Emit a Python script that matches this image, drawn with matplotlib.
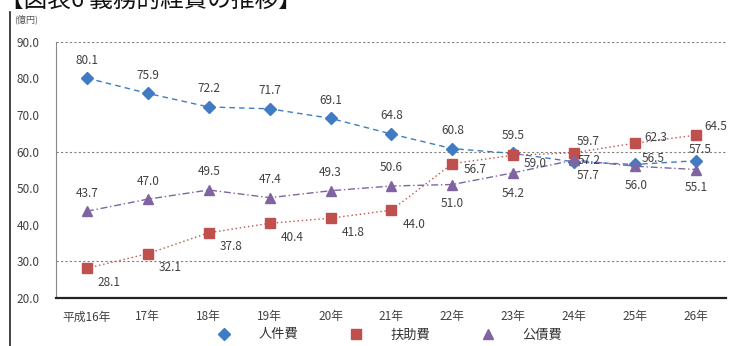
import matplotlib
matplotlib.use("Agg")
import matplotlib.pyplot as plt
from matplotlib.lines import Line2D

plt.rcParams["font.family"] = ["Noto Sans CJK JP", "DejaVu Sans"]

# data (億円)
years = ["平成16年", "17年", "18年", "19年", "20年", "21年", "22年",
         "23年", "24年", "25年", "26年"]
personnel = [80.1, 75.9, 72.2, 71.7, 69.1, 64.8, 60.8, 59.5, 57.2, 56.5, 57.5]
welfare = [28.1, 32.1, 37.8, 40.4, 41.8, 44.0, 56.7, 59.0, 59.7, 62.3, 64.5]
debt = [43.7, 47.0, 49.5, 47.4, 49.3, 50.6, 51.0, 54.2, 57.7, 56.0, 55.1]
names = ["人件費", "扶助費", "公債費"]

# label offsets in points (dx, dy)
off_personnel = [(0, 13)] * 8 + [(11, 1), (13, 4), (3, 8)]
off_welfare = [(16, -10)] * 6 + [(16, -4), (16, -6), (10, 8), (15, 4), (14, 6)]
off_debt = [(0, 13)] * 6 + [(0, -14), (0, -15), (10, -11), (1, -14), (0, -13)]

BLUE, RED, PURPLE = "#3F7CC4", "#C0504D", "#8064A2"

fig = plt.figure(figsize=(7.29, 3.46), dpi=100)
ax = fig.add_axes([0.0775, 0.139, 0.919, 0.74])

x = list(range(len(years)))
series = [
    (personnel, BLUE, "D", 6.5, (0, (4, 3)), off_personnel),
    (welfare, RED, "s", 6.5, (0, (1, 2)), off_welfare),
    (debt, PURPLE, "^", 7, (0, (5, 2, 1, 2)), off_debt),
]
for vals, col, mk, ms, ls, offs in series:
    ax.plot(x, vals, color=col, lw=1, ls=ls, marker=mk, ms=ms,
            markeredgecolor=col, zorder=3)
    for xi, v, (dx, dy) in zip(x, vals, offs):
        ax.annotate(f"{v:.1f}", (xi, v), xytext=(dx, dy),
                    textcoords="offset points", ha="center", va="center",
                    fontsize=8.5, color="#404040", zorder=4)

for g in (30, 60, 90):
    ax.axhline(g, color="#808080", lw=0.8, ls=(0, (2, 2)), zorder=1)

ax.set_xlim(-0.5, len(years) - 0.5)
ax.set_ylim(20, 90)
ax.set_yticks(range(20, 91, 10))
ax.set_yticklabels([f"{v:.1f}" for v in range(20, 91, 10)])
ax.set_xticks(x)
ax.set_xticklabels(years)
ax.tick_params(length=0, labelsize=8.5, colors="#404040", pad=9)
ax.tick_params(axis="y", pad=12)
ax.spines[["top", "right"]].set_visible(False)
ax.spines["left"].set_color("#888888")
ax.spines["bottom"].set_color("#222222")
ax.spines["bottom"].set_linewidth(1.6)

handles = [Line2D([0], [0], color=c, marker=m, ls="none", ms=s)
           for c, m, s in ((BLUE, "D", 6), (RED, "s", 6.5), (PURPLE, "^", 7))]
fig.legend(handles, names, loc="center", bbox_to_anchor=(0.53, 0.032),
           ncol=3, frameon=False, fontsize=9.5, handletextpad=1.6,
           columnspacing=3.4, labelcolor="#333333")

fig.text(0.0, 1.0, "【図表6 義務的経費の推移】", fontsize=17,
         ha="left", va="center", color="#111111")
fig.text(0.02, 0.945, "(億円)", fontsize=6.5, ha="left", va="center",
         color="#555555")
fig.add_artist(Line2D([0.014, 0.014], [0.0, 0.965], color="#222222",
                      lw=1.2, transform=fig.transFigure))

fig.savefig("out.png", dpi=100)
